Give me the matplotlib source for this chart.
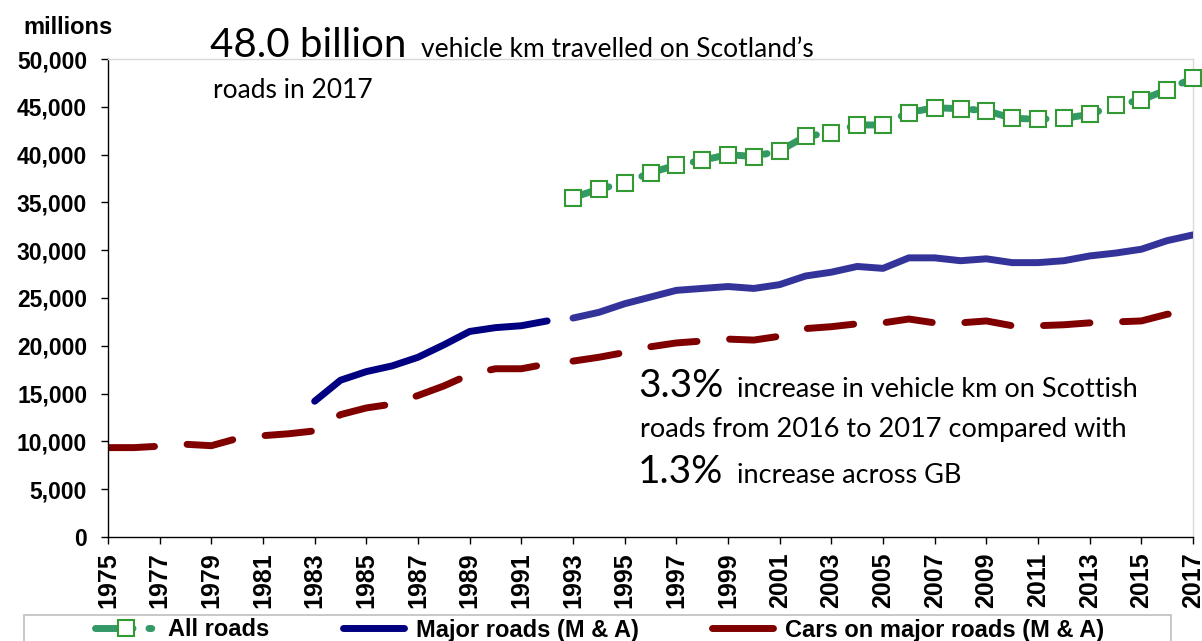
import numpy as np
import matplotlib.pyplot as plt
from matplotlib.lines import Line2D
from matplotlib.patches import Rectangle

# vehicle km (millions)
all_years = np.arange(1993, 2018)
all_roads = [35500, 36400, 37000, 38100, 38900, 39400, 40000, 39800, 40400, 41900,
             42300, 43100, 43100, 44400, 44900, 44800, 44600, 43800, 43700, 43800,
             44200, 45200, 45700, 46800, 48000]

major_early_years = np.arange(1983, 1993)
major_early = [14200, 16400, 17300, 17900, 18800, 20100, 21500, 21900, 22100, 22600]
major_late_years = np.arange(1993, 2018)
major_late = [22900, 23500, 24400, 25100, 25800, 26000, 26200, 26000, 26400, 27300,
              27700, 28300, 28100, 29200, 29200, 28900, 29100, 28700, 28700, 28900,
              29400, 29700, 30100, 31000, 31600]

cars_early_years = np.arange(1975, 1993)
cars_early = [9350, 9350, 9500, 9700, 9550, 10300, 10600, 10800, 11100, 12800,
              13500, 13900, 14800, 15800, 17000, 17600, 17600, 18100]
cars_late_years = np.arange(1993, 2018)
cars_late = [18400, 18800, 19300, 19900, 20300, 20500, 20700, 20600, 21000, 21800,
             22000, 22300, 22400, 22800, 22400, 22400, 22600, 22100, 22100, 22200,
             22400, 22500, 22600, 23300, 23500]

xtick_years = list(range(1975, 2018, 2))
yticks = list(range(0, 50001, 5000))

W, H = 1202, 641


def px(x, y):
    # pixel position (origin top-left) to figure fraction
    return x / W, 1 - y / H


fig = plt.figure(figsize=(W / 100, H / 100), dpi=100)
x0, y1 = px(108, 59)
x1, y0 = px(1193, 537)
ax = fig.add_axes([x0, y0, x1 - x0, y1 - y0])

ax.plot(cars_early_years, cars_early, color='#800000', lw=5, dashes=(6.7, 4.7),
        dash_capstyle='round', zorder=2)
ax.plot(cars_late_years, cars_late, color='#800000', lw=5, dashes=(6.7, 4.7),
        dash_capstyle='round', zorder=2)
ax.plot(major_early_years, major_early, color='#000080', lw=5,
        solid_capstyle='round', zorder=3)
ax.plot(major_late_years, major_late, color='#333399', lw=5,
        solid_capstyle='round', zorder=3)
all_line, = ax.plot(all_years, all_roads, color='#339966', lw=5,
                    dashes=(5.4, 2.3, 0.4, 2.3), dash_capstyle='round',
                    marker='s', ms=11, mfc='white', mec='#339933', mew=1.5,
                    clip_on=False, zorder=5)

ax.set_xlim(1975, 2017)
ax.set_ylim(0, 50000)
ax.set_xticks(xtick_years)
ax.set_xticklabels([str(y) for y in xtick_years], rotation=90,
                   fontsize=18, fontweight='bold', family='Liberation Sans')
ax.set_yticks(yticks)
ax.set_yticklabels([f'{v:,}' for v in yticks], fontsize=16.5, fontweight='bold',
                   family='Liberation Sans')
ax.tick_params(axis='x', direction='out', length=5, width=1, pad=6)
ax.tick_params(axis='y', direction='out', length=5, width=1, pad=10)

for side in ('top', 'right'):
    ax.spines[side].set_color('#D9D9D9')
    ax.spines[side].set_linewidth(1)
for side in ('left', 'bottom'):
    ax.spines[side].set_color('black')
    ax.spines[side].set_linewidth(1)

fig.text(*px(23, 34), 'millions', fontsize=17, fontweight='bold',
         family='Liberation Sans', va='baseline')

# headline and commentary
tf = 'Lato'
fig.text(*px(210, 57), '48.0 billion', fontsize=29, family=tf, va='baseline')
fig.text(*px(421, 57), 'vehicle km travelled on Scotland\u2019s', fontsize=19,
         family=tf, va='baseline')
fig.text(*px(213, 98), 'roads in 2017', fontsize=19, family=tf, va='baseline')

fig.text(*px(638, 397), '3.3%', fontsize=28, family=tf, va='baseline')
fig.text(*px(737, 397), 'increase in vehicle km on Scottish', fontsize=19.5,
         family=tf, va='baseline')
fig.text(*px(640, 437), 'roads from 2016 to 2017 compared with', fontsize=19.5,
         family=tf, va='baseline')
fig.text(*px(638, 483), '1.3%', fontsize=28, family=tf, va='baseline')
fig.text(*px(737, 483), 'increase across GB', fontsize=19.5, family=tf,
         va='baseline')

# legend: solid keys for the two plain lines
major_key = Line2D([], [], color='#000080', lw=5, solid_capstyle='round')
cars_key = Line2D([], [], color='#800000', lw=5, solid_capstyle='round')
fig.legend([all_line, major_key, cars_key],
           ['All roads', 'Major roads (M & A)', 'Cars on major roads (M & A)'],
           loc='center left', bbox_to_anchor=px(95, 630), ncol=3,
           frameon=False, borderpad=0, borderaxespad=0,
           handlelength=2.6, handletextpad=0.5, columnspacing=3.1,
           prop={'family': 'Liberation Sans', 'weight': 'bold', 'size': 17})
lx, ly = px(24, 615)
fig.add_artist(Rectangle((lx, -0.05), 1171 / W - lx, ly + 0.05,
                         transform=fig.transFigure, fill=False,
                         edgecolor='#BFBFBF', lw=1.2, clip_on=False))

fig.savefig('out.png', dpi=100)
